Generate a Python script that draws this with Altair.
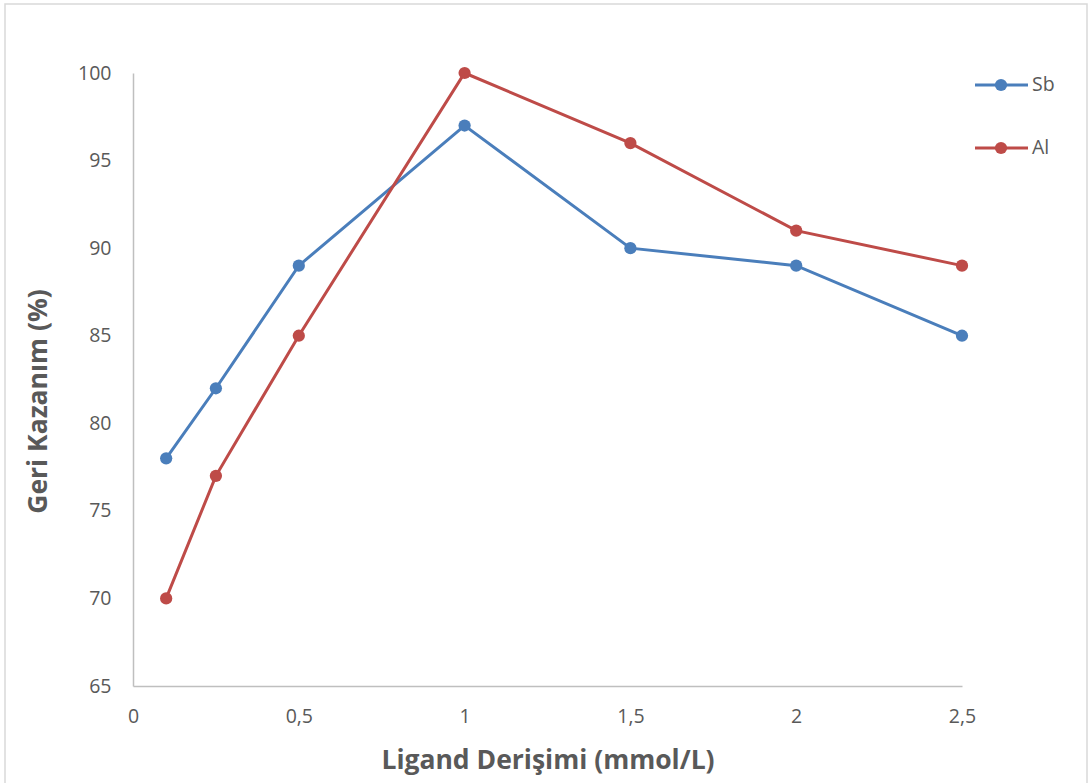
import altair as alt
import pandas as pd

ligand = [0.1, 0.25, 0.5, 1.0, 1.5, 2.0, 2.5]
sb_values = [78, 82, 89, 97, 90, 89, 85]
al_values = [70, 77, 85, 100, 96, 91, 89]
series_names = ["Sb", "Al"]
colors = ["#4a7ebb", "#be4b48"]

df = pd.DataFrame(
    {
        "x": ligand * 2,
        "y": sb_values + al_values,
        "series": ["Sb"] * len(ligand) + ["Al"] * len(ligand),
    }
)

FONT = "Open Sans"
TXT = "#595959"

xenc = alt.X(
    "x:Q",
    scale=alt.Scale(domain=[0, 2.5], nice=False, zero=False),
    axis=alt.Axis(
        values=[0, 0.5, 1, 1.5, 2, 2.5],
        labelExpr="replace(toString(datum.value), '.', ',')",
        title="Ligand Derişimi (mmol/L)",
        grid=False,
        ticks=False,
        labelFlush=False,
        domainColor="#bfbfbf",
        domainWidth=1.5,
        labelFont=FONT,
        labelFontSize=19.5,
        labelColor=TXT,
        labelPadding=21,
        titleFont=FONT,
        titleFontSize=26.5,
        titleFontWeight="bold",
        titleColor=TXT,
        titlePadding=22,
    ),
)
yenc = alt.Y(
    "y:Q",
    scale=alt.Scale(domain=[65, 100], nice=False, zero=False),
    axis=alt.Axis(
        values=[65, 70, 75, 80, 85, 90, 95, 100],
        title="Geri Kazanım (%)",
        grid=False,
        ticks=False,
        labelFlush=False,
        domainColor="#bfbfbf",
        domainWidth=1.5,
        labelFont=FONT,
        labelFontSize=19.5,
        labelColor=TXT,
        labelPadding=22,
        titleFont=FONT,
        titleFontSize=26.5,
        titleFontWeight="bold",
        titleColor=TXT,
        titlePadding=25,
        titleY=328,
    ),
)
color = alt.Color(
    "series:N",
    scale=alt.Scale(domain=series_names, range=colors),
    legend=None,
)

base = alt.Chart(df)
lines = base.mark_line(strokeWidth=3).encode(x=xenc, y=yenc, color=color, detail="series:N")
points = base.mark_circle(size=150, opacity=1).encode(x=xenc, y=yenc, color=color)

# custom legend (right side, outside plot)
layers = [lines, points]
legend_y = [12, 75]
for name, col, ly in zip(series_names, colors, legend_y):
    ldf = pd.DataFrame({"label": [name]})
    lc = alt.Chart(ldf)
    layers.append(
        lc.mark_rule(color=col, strokeWidth=3).encode(
            x=alt.value(842), x2=alt.value(895), y=alt.value(ly)
        )
    )
    layers.append(
        lc.mark_circle(color=col, size=150, opacity=1).encode(
            x=alt.value(868), y=alt.value(ly)
        )
    )
    layers.append(
        lc.mark_text(
            align="left", baseline="middle", font=FONT, fontSize=19.5, color=TXT
        ).encode(x=alt.value(899), y=alt.value(ly), text="label:N")
    )

# outer chart border
border = alt.Chart(pd.DataFrame({"a": [0]})).mark_rect(
    fill=None, stroke="#d9d9d9", strokeWidth=1.5
).encode(x=alt.value(-128), x2=alt.value(954), y=alt.value(-69), y2=alt.value(715))
layers.append(border)

chart = (
    alt.layer(*layers)
    .properties(
        width=829,
        height=613,
        autosize=alt.AutoSizeParams(type="none"),
        padding={"left": 133, "top": 73, "right": 127, "bottom": 97},
        background="white",
    )
    .configure_view(stroke=None)
)

chart.save("out.html", embed_options={"renderer": "svg", "actions": False})
